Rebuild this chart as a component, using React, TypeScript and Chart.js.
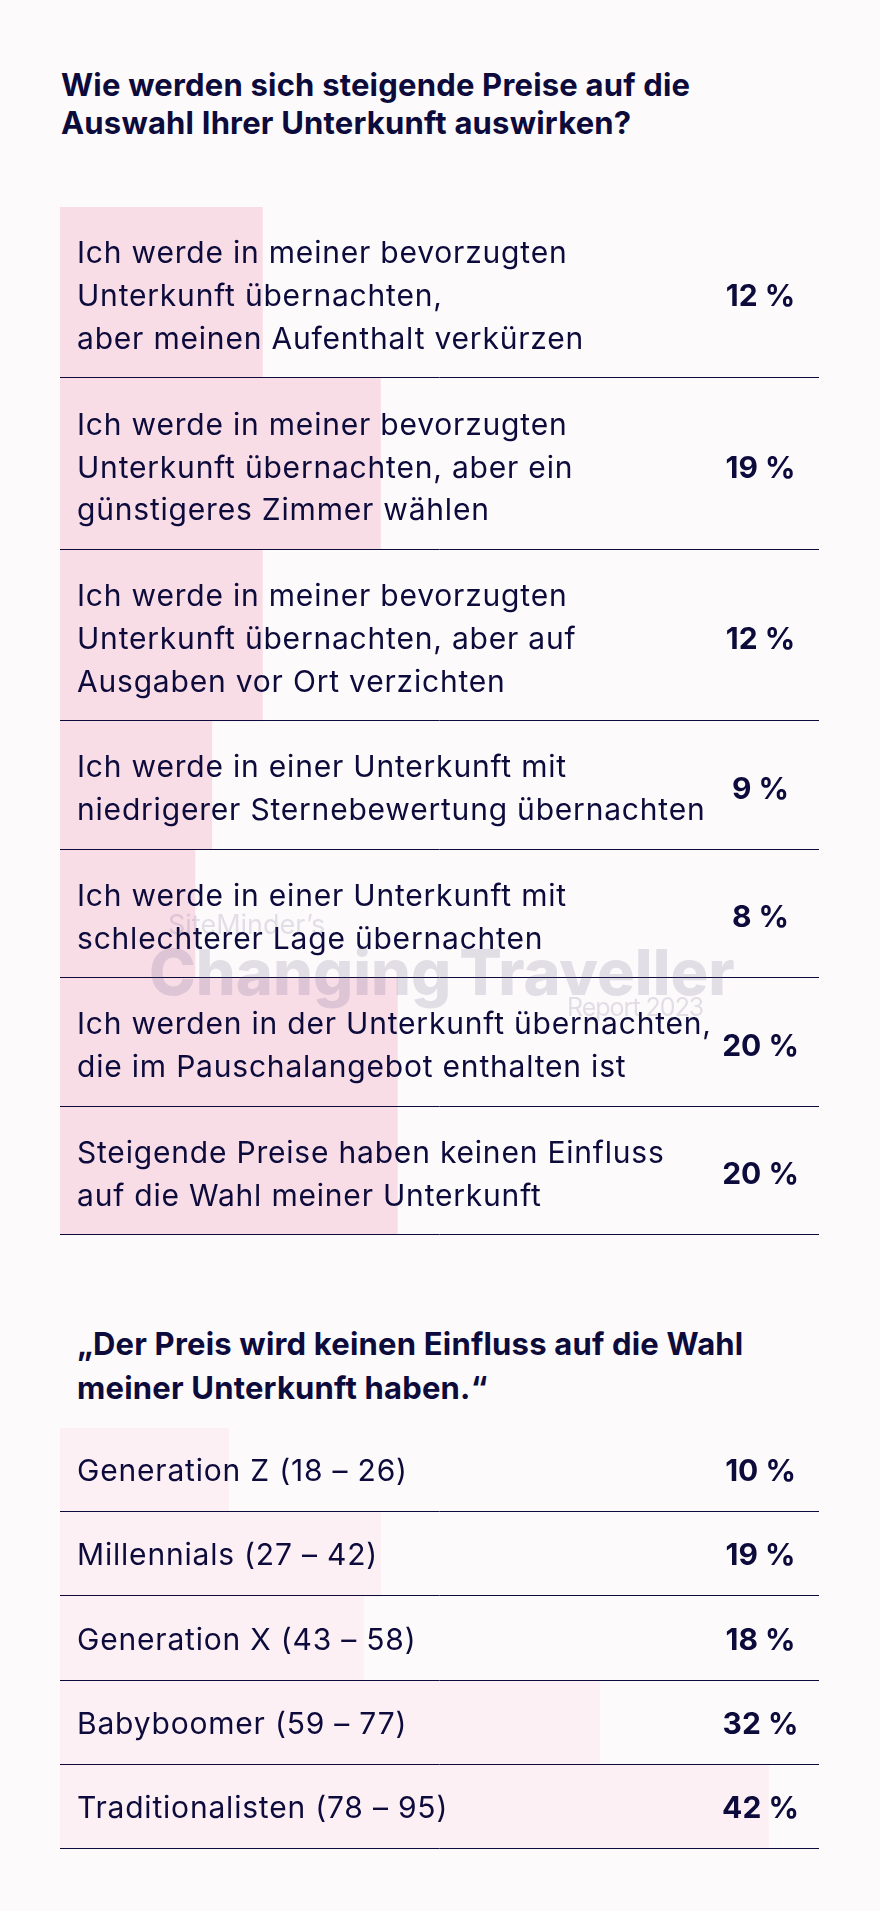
import React, { useEffect, useRef } from "react";
import { Chart, registerables } from "chart.js";

Chart.register(...registerables);

// ---------- data ----------
const answerLabels: string[][] = [
  ["Ich werde in meiner bevorzugten", "Unterkunft übernachten,", "aber meinen Aufenthalt verkürzen"],
  ["Ich werde in meiner bevorzugten", "Unterkunft übernachten, aber ein", "günstigeres Zimmer wählen"],
  ["Ich werde in meiner bevorzugten", "Unterkunft übernachten, aber auf", "Ausgaben vor Ort verzichten"],
  ["Ich werde in einer Unterkunft mit", "niedrigerer Sternebewertung übernachten"],
  ["Ich werde in einer Unterkunft mit", "schlechterer Lage übernachten"],
  ["Ich werden in der Unterkunft übernachten,", "die im Pauschalangebot enthalten ist"],
  ["Steigende Preise haben keinen Einfluss", "auf die Wahl meiner Unterkunft"],
];
const answerShares: number[] = [12, 19, 12, 9, 8, 20, 20];

const generationLabels: string[][] = [
  ["Generation Z (18 – 26)"],
  ["Millennials (27 – 42)"],
  ["Generation X (43 – 58)"],
  ["Babyboomer (59 – 77)"],
  ["Traditionalisten (78 – 95)"],
];
const generationShares: number[] = [10, 19, 18, 32, 42];

const scaleMax = 45;

const titleMain = ["Wie werden sich steigende Preise auf die", "Auswahl Ihrer Unterkunft auswirken?"];
const titleSecond = ["„Der Preis wird keinen Einfluss auf die Wahl", "meiner Unterkunft haben.“"];

// ---------- style ----------
const NAVY = "#0c0b3b";
const BG = "#fdfafc";
const FONT = "Inter";

type RowBarsProps = {
  labels: string[][];
  values: number[];
  barColor: string;
  areaWidth: number;
  areaHeight: number;
  textShift: number;
};

function RowBars({ labels, values, barColor, areaWidth, areaHeight, textShift }: RowBarsProps) {
  const ref = useRef<HTMLCanvasElement | null>(null);

  useEffect(() => {
    if (!ref.current) return;
    const units = labels.map((l) => l.length + 1);
    const starts: number[] = [];
    let acc = 0;
    units.forEach((u) => {
      starts.push(acc);
      acc += u;
    });
    const total = acc;
    const unitPx = areaHeight / total;
    const groups = Array.from(new Set(units));

    const datasets = groups.map((u) => ({
      data: values
        .map((v, i) => (units[i] === u ? { x: v, y: starts[i] + u / 2 } : null))
        .filter((d) => d !== null),
      backgroundColor: barColor,
      borderWidth: 0,
      barThickness: u * unitPx,
      grouped: false,
    }));

    const textPlugin = {
      id: "rowText",
      afterDatasetsDraw(chart: any) {
        const { ctx, chartArea, scales } = chart;
        const y = scales.y;
        ctx.save();
        // separators
        ctx.strokeStyle = NAVY;
        ctx.lineWidth = 1;
        units.forEach((u, i) => {
          const py = Math.round(y.getPixelForValue(starts[i] + u)) - 0.5;
          ctx.beginPath();
          ctx.moveTo(chartArea.left, py);
          ctx.lineTo(chartArea.right, py);
          ctx.stroke();
        });
        // labels
        ctx.fillStyle = NAVY;
        ctx.textBaseline = "middle";
        labels.forEach((lines, i) => {
          ctx.font = `400 30px ${FONT}`;
          (ctx as any).letterSpacing = "0.8px";
          ctx.textAlign = "left";
          lines.forEach((line, j) => {
            const py = y.getPixelForValue(starts[i] + 1 + j) + textShift;
            ctx.fillText(line, chartArea.left + 17, py);
          });
          ctx.font = `700 30px ${FONT}`;
          (ctx as any).letterSpacing = "0px";
          ctx.textAlign = "center";
          const cy = y.getPixelForValue(starts[i] + units[i] / 2) + textShift;
          ctx.fillText(`${values[i]} %`, chartArea.right - 58.5, cy);
        });
        ctx.restore();
      },
    };

    const chart = new Chart(ref.current, {
      type: "bar",
      data: { datasets: datasets as any },
      options: {
        indexAxis: "y",
        responsive: false,
        animation: false,
        layout: { padding: { left: 0, right: 0, top: 0, bottom: 2 } },
        plugins: { legend: { display: false }, tooltip: { enabled: false } },
        scales: {
          x: { type: "linear", min: 0, max: scaleMax, display: false },
          y: { type: "linear", min: 0, max: total, reverse: true, offset: false, display: false },
        },
      },
      plugins: [textPlugin],
    });
    return () => chart.destroy();
  }, []);

  return <canvas ref={ref} width={areaWidth} height={areaHeight + 2} style={{ display: "block" }} />;
}

export default function App() {
  const titleStyle: React.CSSProperties = {
    position: "absolute",
    fontFamily: FONT,
    fontWeight: 700,
    fontSize: 31,
    letterSpacing: "0.2px",
    color: NAVY,
    whiteSpace: "nowrap",
  };
  const wm: React.CSSProperties = {
    position: "absolute",
    fontFamily: FONT,
    color: "rgba(95, 85, 125, 0.17)",
    lineHeight: 1,
    whiteSpace: "nowrap",
    pointerEvents: "none",
  };
  return (
    <div style={{ position: "relative", width: 880, height: 1911, background: BG, overflow: "hidden" }}>
      <style>{`body{margin:0;background:${BG}}`}</style>
      <div style={{ ...titleStyle, left: 61, top: 66, lineHeight: "38px" }}>
        {titleMain[0]}
        <br />
        {titleMain[1]}
      </div>
      <div style={{ position: "absolute", left: 60, top: 207 }}>
        <RowBars labels={answerLabels} values={answerShares} barColor="#f8dde7" areaWidth={759} areaHeight={1028} textShift={4.5} />
      </div>
      <div style={{ ...wm, left: 168, top: 911, fontSize: 27, fontWeight: 400 }}>SiteMinder’s</div>
      <div style={{ ...wm, left: 149, top: 941, fontSize: 63, fontWeight: 800, letterSpacing: "0px", wordSpacing: "-6px" }}>
        Changing Traveller
      </div>
      <div style={{ ...wm, left: 567, top: 995, fontSize: 25, fontWeight: 400, letterSpacing: "-1px" }}>Report 2023</div>
      <div style={{ ...titleStyle, left: 77, top: 1322, lineHeight: "44px" }}>
        {titleSecond[0]}
        <br />
        {titleSecond[1]}
      </div>
      <div style={{ position: "absolute", left: 60, top: 1428 }}>
        <RowBars labels={generationLabels} values={generationShares} barColor="#fcf0f4" areaWidth={759} areaHeight={421} textShift={2} />
      </div>
    </div>
  );
}
